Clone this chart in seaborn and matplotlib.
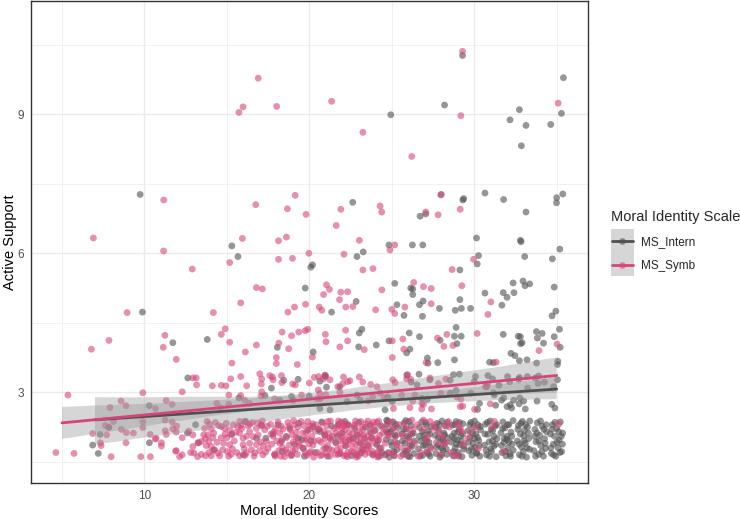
import numpy as np
import pandas as pd
import matplotlib
matplotlib.use("Agg")
import matplotlib.pyplot as plt
import seaborn as sns
from matplotlib.patches import Rectangle
from matplotlib.lines import Line2D

sns.set_theme(style="white")
plt.rcParams['font.family'] = ['Liberation Sans', 'DejaVu Sans']

# ---------------- data (jittered positions) ----------------
scales = ["MS_Intern", "MS_Symb"]
x_title = "Moral Identity Scores"
y_title = "Active Support"
legend_title = "Moral Identity Scale"
x_ticks = [10, 20, 30]
y_ticks = [3, 6, 9]

symb_upper = [
 (16.9,9.78),(15.98,9.16),(15.73,9.04),(18.02,9.17),(21.35,9.28),(29.29,10.36),(29.19,8.97),(23.25,8.61),(26.21,8.09),(35.09,9.24),
 (11.17,7.15),(16.75,7.05),(6.9,6.33),(15.94,6.32),(11.16,6.05),(19.14,7.25),(18.67,6.96),(19.8,6.84),(21.91,6.95),(24.29,7.02),
 (24.39,6.89),(21.63,6.6),(27.97,7.26),(27.06,6.89),(27.81,6.83),(29.15,6.95),(18.13,6.27),(18.61,6.35),(23.03,6.28),(25.18,6.18),
 (24.89,6.07),(19.97,6.0),(22.1,5.98),(18.13,5.87),(18.98,5.89),(29.96,5.87),(15.17,5.8),(23.25,5.64),(23.86,5.67),(16.79,5.26),
 (17.15,5.23),(21.04,5.32),(21.22,5.22),(20.86,5.11),(21.91,5.16),(22.32,5.17),(21.83,5.0),(24.4,5.21),(15.84,4.93),(19.77,4.9),
 (19.1,4.84),(18.7,4.73),(20.6,4.84),(20.76,4.77),(22.21,4.84),(22.64,4.85),(24.02,4.78),(25.0,4.79),(25.18,4.7),(25.79,4.84),
 (18.35,4.3),(18.92,4.22),(19.36,4.3),(19.75,4.33),(19.9,4.36),(20.97,4.25),(21.01,4.09),(22.2,4.34),(22.32,4.11),(23.33,3.92),
 (21.85,3.98),(25.03,4.11),(25.67,4.15),(25.73,3.93),(25.03,3.75),(15.17,4.08),(15.3,3.63),(16.79,4.02),(16.12,3.87),(18.15,4.06),
 (18.75,3.94),(20.19,3.76),(18.0,3.75),(18.0,3.62),(19.27,3.6),(15.23,3.29),(15.84,3.34),(16.2,3.14),(16.99,3.4),(17.11,3.29),
 (17.09,3.18),(17.6,3.36),(17.76,3.33),(18.31,3.36),(18.33,3.21),(18.99,3.18),(19.15,3.16),(20.3,3.32),(20.0,3.2),(21.25,3.27),
 (22.07,3.33),(22.32,3.23),(21.73,3.12),(23.03,3.33),(23.24,3.22),(23.72,3.17),(25.06,3.27),(25.2,3.21),(28.66,5.65),(26.33,5.37),
 (26.92,5.28),(27.39,5.24),(29.25,5.3),(27.39,4.91),(31.01,4.95),(30.83,4.68),(27.77,4.17),(28.34,4.25),(30.18,4.27),(28.16,3.99),
 (28.71,4.01),(35.02,4.04),(33.93,3.9),(27.08,3.64),(31.33,3.65),(25.96,3.38),(25.9,3.29),(27.32,3.31),(30.67,3.12),(30.81,3.18),
 (17.8,3.27),(17.11,3.01),(17.07,2.92),(15.84,2.93),(16.38,2.76),(17.9,2.86),(19.53,2.94),(20.56,3.34),(20.85,3.29),(20.97,3.37),
 (20.54,3.05),(20.64,2.97),(20.48,2.86),(20.66,2.86),(21.0,2.95),(21.85,3.0),(22.03,3.19),(22.46,3.25),(24.1,3.12),(24.3,2.99),
 (24.53,2.88),(23.84,2.9),(23.57,2.81),(26.15,3.28),(26.41,2.94),(26.27,2.81),(26.82,2.76),(26.82,2.64),(27.41,2.64),(27.83,3.19),
 (28.28,3.28),(27.97,2.98),(28.95,2.9),(29.19,2.85),(29.15,2.69),(30.02,2.63),(30.97,2.75),(12.9,5.66),(8.95,4.72),(14.18,4.72),
 (11.24,4.23),(11.14,3.97),(7.85,4.12),(6.78,3.93),(14.66,4.25),(14.9,4.37),(11.93,3.71),(12.94,3.31),(13.14,3.31),(13.16,3.16),
 (14.12,3.14),(14.66,3.15),(14.94,3.14),(15.12,2.94),(12.29,3.01),(9.9,2.99),(5.36,2.94),(8.58,2.81),(8.88,2.71),(10.67,2.65),
 (11.32,2.82),(11.68,2.74),(7.91,2.67),(16.08,2.83),(15.11,2.74),(14.62,2.67),(14.39,2.76),(25.1,2.65),(26.1,2.67),(26.92,2.74),
 (29.3,2.70),(25.6,2.94),
]

symb_band = [
 (4.63,1.70),(5.73,1.68),(6.86,2.11),(7.33,1.91),(7.37,1.85),(7.63,2.28),(7.83,2.25),(7.71,2.08),(7.98,1.61),(8.12,2.37),
 (8.6,2.2),(8.9,2.13),(8.88,1.91),(9.33,2.12),(9.9,2.37),(9.9,2.24),(9.78,1.61),(10.35,2.09),(10.65,1.99),(10.36,1.61),
 (11.03,1.84),(11.03,1.91),(11.32,2.09),(11.26,2.17),(11.72,2.21),(11.93,2.14),(12.29,2.02),(11.93,1.74),(11.89,1.73),(12.29,1.65),
 (11.26,2.4),(11.68,2.36),(11.95,2.27),(12.8,1.7),(13.0,1.69),(13.22,1.61),(13.45,1.66),(12.69,2.16),(12.94,1.83),(13.24,1.91),
 (13.45,1.94),(13.59,2.08),(12.94,2.08),(12.13,1.61),(10.71,2.01),
 (13.65,2.22),(13.95,2.31),(14.05,2.21),(13.85,2.08),(14.15,2.02),(13.91,1.94),(13.75,1.85),(14.05,1.83),(14.25,1.76),(14.46,1.69),
 (14.05,1.63),(13.71,1.63),(14.56,1.63),(14.66,2.26),(14.96,2.33),(14.86,2.22),(15.17,2.19),(15.27,2.08),(15.0,2.02),(14.66,2.02),
 (14.8,1.90),(15.17,1.87),(15.33,1.78),(15.03,1.72),(15.67,2.26),(15.77,2.37),(16.08,2.37),(16.28,2.28),(15.77,2.12),(15.98,2.01),
 (16.38,2.15),(16.59,2.04),(16.38,1.90),(15.98,1.87),(15.77,1.63),(16.18,1.69),(16.48,1.76),(16.79,1.87),(16.69,1.69),(16.99,1.74),
 (17.19,1.65),(16.79,2.22),(17.09,2.30),(17.29,2.19),(17.4,1.94),(17.5,1.79),
 (13.8,2.37),(14.3,2.35),(14.4,1.92),(14.75,1.76),(15.1,1.62),(15.4,2.3),(15.45,1.95),(15.6,1.7),(15.9,2.22),(16.05,1.78),
 (16.2,2.05),(16.55,2.35),(16.65,1.62),(16.9,2.08),(17.05,1.93),(17.15,2.38),(17.35,1.71),(17.45,2.27),(13.9,1.7),(14.2,2.12),
 (14.5,2.28),(15.25,1.66),(15.55,2.14),(16.1,1.64),(16.4,2.31),(16.85,2.34),(17.2,1.84),(13.7,2.0),(14.9,2.1),(15.85,2.28),
 (17.65,2.31),(17.72,1.88),(17.8,2.05),(17.9,1.67),(17.95,2.22),(18.02,1.95),(18.1,2.36),(18.15,1.74),(18.2,2.12),(18.27,1.62),
 (18.3,2.27),(18.35,1.99),(18.38,1.81),(17.85,2.14),
 (18.62,2.02),(18.66,1.7),(18.7,2.35),(18.78,1.86),(18.85,2.19),(18.9,1.63),(18.96,2.08),(19.02,1.93),(19.1,2.3),(19.15,1.77),
 (19.2,2.14),(19.27,1.66),(19.31,2.25),(19.36,1.9),(19.05,2.39),
 (19.62,1.8),(19.67,2.28),(19.72,1.97),(19.8,2.13),(19.85,1.64),(19.9,2.37),(19.97,1.88),(20.03,2.2),(20.1,1.72),(20.15,2.05),
 (20.2,2.32),(20.26,1.6),(20.3,1.95),(20.36,2.16),(20.0,1.69),
 (20.62,2.21),(20.66,1.63),(20.72,1.92),(20.8,2.34),(20.87,1.78),(20.93,2.07),(21.0,1.68),(21.05,2.27),(21.1,1.86),(21.17,2.12),
 (21.24,1.62),(21.28,2.38),(21.33,1.97),(21.37,1.75),(20.95,2.0),
 (21.63,1.9),(21.7,2.25),(21.75,1.66),(21.83,2.1),(21.9,1.8),(21.95,2.36),(22.03,1.98),(22.1,1.63),(22.15,2.18),(22.22,1.85),
 (22.28,2.3),(22.33,1.71),(22.37,2.04),(21.98,2.22),
 (22.62,2.1),(22.68,1.7),(22.75,2.3),(22.83,1.88),(22.9,2.15),(22.97,1.62),(23.05,2.03),(23.12,2.37),(23.2,1.79),(23.27,2.2),
 (23.33,1.93),(23.38,1.66),
 (23.63,1.84),(23.7,2.27),(23.78,2.02),(23.86,1.64),(23.93,2.16),(24.0,1.9),(24.1,2.35),(24.18,1.73),(24.27,2.07),(24.35,1.8),
 (17.68,2.1),(17.93,1.62),(18.22,1.9),(18.4,2.2),(18.58,1.75),(18.75,2.27),(19.0,1.74),(19.22,2.02),(19.4,1.85),(19.6,2.12),
 (19.75,1.7),(20.05,2.27),(20.22,1.86),(20.4,2.3),(20.58,1.96),(20.77,1.65),(20.9,2.15),(21.12,2.37),(21.2,1.77),(21.4,2.05),
 (21.58,1.66),(21.8,2.32),(21.92,1.95),(22.07,2.27),(22.25,1.64),(22.42,2.14),(22.6,1.83),(22.8,2.38),(22.92,1.75),(23.1,2.1),
 (23.25,1.86),(23.42,2.32),(23.6,1.7),(23.75,2.12),(23.9,2.36),(24.05,1.67),(24.22,1.97),(24.4,2.25),(18.5,1.61),(19.5,2.37),
 (20.5,1.7),(21.5,2.22),(22.5,1.95),(23.5,2.05),(24.15,1.6),(19.85,2.0),
 (21.6,2.12),(21.68,1.76),(21.77,2.38),(21.88,1.69),(22.0,2.05),(22.12,2.32),(22.2,1.92),(22.3,1.61),(22.4,2.28),(22.55,1.72),
 (22.64,2.0),(22.72,2.26),(22.86,1.6),(22.95,1.94),(23.08,1.68),(23.17,2.24),(23.3,2.08),(23.44,1.77),(23.55,2.38),(23.65,1.95),
 (23.8,1.73),(23.96,2.28),(24.07,2.0),(24.2,2.38),(24.32,1.63),(24.45,2.12),(24.6,1.9),(24.78,2.06),(24.98,2.36),(25.15,1.64),
 (24.89,2.08),(25.2,1.94),(25.1,2.22),(25.91,2.22),(26.21,2.40),(26.92,2.40),(27.33,2.37),(27.53,2.22),(27.83,2.15),(28.14,1.87),
 (28.44,2.37),(29.15,2.22),(29.25,2.15),(29.76,2.15),(30.26,1.79),(29.05,1.65),(27.12,1.72),(25.91,1.65),(24.62,2.2),(24.7,1.67),
 (25.3,1.86),(25.7,2.05),(31.22,2.37),(31.08,2.25),(31.78,1.72),(35.12,2.31),
 (24.75,2.33),(25.05,1.7),(25.45,2.3),(25.6,1.8),(26.05,1.95),(26.3,2.2),(26.6,1.62),(27.2,2.05),(27.7,1.92),(28.2,2.28),
 (28.6,1.7),(30.1,2.25),
 (25.4,2.1),(25.55,1.62),(25.8,2.35),(26.0,1.78),(26.15,2.1),(26.4,1.9),(26.55,2.3),(26.75,1.7),(26.95,2.2),(27.1,1.95),
 (27.4,1.78),(27.6,2.3),(27.95,1.65),(28.05,2.05),(28.3,1.92),(28.5,2.25),(28.8,1.62),(29.0,2.32),(29.35,1.88),(29.6,2.0),
]

intern_upper = [
 (9.74,7.27),(15.3,6.16),(15.67,5.93),(29.29,10.27),(28.2,9.2),(24.94,8.99),(32.74,9.1),(32.17,8.88),(33.14,8.76),(32.86,8.32),
 (22.63,7.1),(28.0,7.27),(29.31,7.15),(29.36,7.18),(30.65,7.3),(31.78,7.16),(33.14,6.89),(26.72,6.8),(27.06,6.85),(24.83,6.18),
 (26.25,6.18),(26.88,6.18),(30.14,6.33),(32.8,6.28),(32.84,6.25),(30.26,5.95),(33.06,5.93),(22.89,5.93),(23.27,6.03),
 (35.41,9.79),(35.29,9.02),(34.64,8.78),(35.37,7.28),(35.0,7.2),(34.99,7.09),(35.19,6.09),(34.74,5.88),(32.96,5.4),(33.08,5.3),
 (33.36,5.34),(34.85,5.27),(34.95,4.75),(34.72,4.65),(33.77,4.31),(34.12,4.27),(35.17,4.36),(32.9,4.07),(34.2,4.06),(34.85,4.2),
 (35.21,3.97),(32.8,4.2),
 (20.09,5.7),(20.19,5.75),(19.75,5.25),(22.84,4.96),(25.18,5.35),(21.35,4.73),(25.31,4.89),(25.74,4.66),(23.19,4.36),(23.03,4.28),
 (22.99,3.98),(24.06,4.02),(24.83,4.11),(25.9,3.85),(18.06,3.97),(20.23,3.87),(17.7,3.09),(18.45,3.26),(19.32,3.28),(20.94,3.36),
 (20.98,3.34),(20.64,3.24),(25.91,3.37),
 (30.18,5.77),(29.13,5.64),(26.15,5.25),(26.27,5.23),(26.27,5.11),(32.36,5.36),(30.65,5.14),(31.76,5.15),(31.99,5.05),(32.41,5.15),
 (26.9,4.97),(26.68,4.89),(26.86,4.64),(27.89,4.81),(28.85,4.77),(29.22,4.81),(29.13,5.0),(29.78,4.81),(31.68,4.88),(26.06,4.28),
 (26.68,4.2),(27.93,4.12),(28.9,4.4),(28.8,4.21),(29.21,4.21),(28.95,4.05),(31.76,4.25),(32.67,4.21),(32.81,4.05),(33.83,4.17),
 (26.1,3.93),(27.16,3.74),(27.2,3.63),(27.79,3.64),(28.8,3.7),(32.23,3.84),(32.47,3.79),(32.74,3.68),(33.2,3.7),(30.93,3.65),
 (31.16,3.64),(33.78,3.63),(35.07,3.67),(35.05,3.6),(26.65,3.39),(28.74,3.38),(29.1,3.39),(30.08,3.34),(30.83,3.36),(32.02,3.34),
 (32.74,3.32),(33.22,3.34),(33.69,3.31),(33.91,3.35),(33.87,3.19),(34.26,3.22),(35.05,3.27),(34.82,3.12),
 (17.31,2.93),(18.2,2.83),(18.92,2.91),(19.02,2.83),(19.99,2.92),(21.04,3.11),(21.85,3.12),(22.9,2.94),(23.08,2.83),(22.29,2.8),
 (25.03,2.8),(24.75,2.9),(26.17,3.22),(26.53,3.16),(26.82,2.87),(27.16,2.85),(27.31,3.27),(28.54,3.26),(28.54,2.98),(28.9,3.04),
 (29.8,2.98),(30.0,3.23),(30.32,2.76),(30.2,2.63),(30.76,3.12),(31.11,3.29),(31.17,2.99),(31.5,3.15),(31.66,2.83),(31.99,2.69),
 (32.39,2.83),(32.72,2.75),(33.1,2.64),(33.24,3.09),(32.15,3.23),(32.7,3.28),
 (31.22,2.94),(31.79,2.88),(32.76,2.88),(33.0,2.81),(33.81,2.81),(34.7,2.74),(34.89,2.66),(31.3,2.72),(32.19,2.73),(32.27,2.66),
 (9.88,4.73),(11.72,4.07),(13.81,4.14),(12.63,3.31),(10.29,2.71),(15.73,2.88),(20.64,2.65),(21.25,2.62),(24.59,2.62),
]

intern_band = [
 (6.86,1.86),(7.31,2.09),(7.85,2.24),(10.3,1.91),(12.61,2.12),(13.28,1.91),(16.14,2.37),(16.79,2.01),(17.36,2.01),
 (7.2,1.68),(13.1,2.3),(14.2,1.75),(15.3,2.1),(16.0,1.65),(17.1,2.28),
 (18.31,1.94),(18.92,1.65),(18.81,2.22),(19.32,2.01),(20.23,2.26),(20.64,2.15),(20.94,2.08),(21.25,2.01),(21.75,2.30),(22.16,2.37),
 (22.67,2.01),(22.91,2.08),(23.07,1.90),(23.27,1.76),(23.68,2.15),(23.78,2.01),(24.08,1.87),(24.29,1.79),(24.69,2.40),(24.79,2.12),
 (17.9,1.65),(19.63,1.79),(22.87,1.65),(24.59,1.65),
 (17.8,2.1),(18.1,2.3),(18.35,1.72),(18.6,2.05),(19.1,1.88),(19.35,2.33),(19.7,1.62),(19.9,2.18),(20.1,1.95),(20.35,1.7),
 (20.75,2.36),(21.0,1.8),(21.1,1.62),(21.35,2.27),(21.6,1.92),(21.85,1.68),(22.0,2.12),(22.2,1.85),(22.35,2.3),(22.55,1.63),
 (22.75,2.22),(23.0,2.35),(23.15,1.7),(23.35,2.0),(23.55,1.85),(23.7,2.3),(23.85,1.66),(24.0,2.18),(24.15,1.95),(24.35,2.28),
 (24.4,1.7),(22.4,1.97),(23.4,2.25),(21.7,2.05),(20.55,2.2),(19.55,1.98),(24.2,1.62),
 (24.65,1.98),(24.72,2.3),(24.8,1.7),(24.9,2.15),(25.0,1.85),(25.08,2.36),(25.15,1.63),(25.22,2.05),(25.3,1.76),(25.36,2.24),
 (25.62,2.1),(25.68,1.66),(25.74,2.33),(25.8,1.9),(25.88,2.2),(25.95,1.74),(26.02,2.02),(26.1,1.61),(26.17,2.28),(26.23,1.83),
 (26.3,2.12),(26.36,1.95),(25.85,2.39),
 (26.62,1.78),(26.68,2.24),(26.75,1.95),(26.82,2.36),(26.88,1.64),(26.95,2.08),(27.02,1.86),(27.08,2.3),(27.15,1.71),(27.2,2.16),
 (27.26,1.92),(27.32,1.62),(27.37,2.26),(27.0,2.0),
 (27.62,2.07),(27.68,1.68),(27.74,2.33),(27.8,1.87),(27.86,2.18),(27.92,1.6),(27.98,1.99),(28.04,2.38),(28.1,1.76),(28.16,2.12),
 (28.22,1.9),(28.28,2.27),(28.34,1.66),(28.38,2.02),(28.0,1.8),
 (28.62,1.92),(28.67,2.29),(28.72,1.63),(28.78,2.12),(28.84,1.8),(28.9,2.37),(28.96,1.97),(29.02,1.7),(29.08,2.2),(29.14,1.87),
 (29.2,2.06),(29.26,1.61),(29.31,2.32),(29.36,1.77),(29.0,2.14),(28.8,2.0),
 (29.62,2.17),(29.68,1.74),(29.74,2.03),(29.8,2.35),(29.86,1.64),(29.92,1.9),(29.98,2.25),(30.04,1.81),(30.1,2.1),(30.16,1.68),
 (30.22,2.3),(30.28,1.96),(30.34,1.62),(30.38,2.19),(30.0,2.0),
 (30.62,1.86),(30.68,2.31),(30.75,1.65),(30.82,2.09),(30.9,1.93),(30.97,2.38),(31.05,1.72),(31.12,2.17),(31.2,1.84),(31.27,2.27),
 (31.33,1.61),(31.38,2.0),(31.0,1.78),
 (31.62,2.12),(31.68,1.7),(31.74,2.36),(31.8,1.92),(31.86,2.23),(31.92,1.63),(31.98,2.05),(32.04,1.8),(32.1,2.3),(32.17,1.67),
 (32.23,2.14),(32.3,1.88),(32.36,2.39),(32.0,1.98),
 (32.62,1.95),(32.68,2.28),(32.74,1.65),(32.8,2.1),(32.86,1.82),(32.92,2.37),(32.98,1.72),(33.04,2.18),(33.1,1.9),(33.17,1.6),
 (33.23,2.25),(33.3,2.0),(33.36,1.77),(33.0,2.06),
 (33.62,1.74),(33.68,2.2),(33.75,1.93),(33.82,2.34),(33.9,1.66),(33.97,2.07),(34.04,1.85),(34.12,2.27),(34.2,1.62),(34.27,2.0),
 (34.33,1.79),(34.38,2.15),
 (34.62,2.1),(34.68,1.68),(34.74,2.3),(34.8,1.88),(34.87,2.05),(34.94,1.62),(35.0,2.22),(35.08,1.8),(35.15,1.97),(35.22,2.36),
 (35.3,1.72),(35.36,2.12),
 (24.68,2.15),(24.85,1.6),(24.95,1.93),(25.05,2.22),(25.12,1.72),(25.25,2.31),(25.33,1.9),(24.76,2.38),(25.18,2.08),
 (25.65,1.95),(25.72,2.2),(25.83,1.73),(25.92,2.05),(26.05,2.37),(26.14,1.86),(26.2,2.1),(26.33,1.68),(25.98,1.62),
 (26.65,2.05),(26.72,1.62),(26.85,2.15),(26.92,1.85),(27.05,2.35),(27.12,1.95),(27.23,1.67),(27.3,2.1),(27.35,1.82),
 (27.65,2.25),(27.72,1.82),(27.83,2.02),(27.9,2.3),(28.02,1.65),(28.12,1.95),(28.2,2.08),(28.3,1.78),(28.36,2.35),
 (28.65,2.05),(28.75,1.72),(28.82,2.3),(28.93,1.88),(29.05,1.62),(29.1,2.35),(29.22,1.95),(29.3,2.1),(29.38,1.84),
 (29.65,1.92),(29.72,2.3),(29.83,1.78),(29.9,2.12),(30.02,2.38),(30.12,1.7),(30.2,2.02),(30.3,1.85),(30.36,2.26),
 (30.65,2.1),(30.72,1.75),(30.8,2.35),(30.93,1.62),(31.02,2.2),(31.1,1.95),(31.2,2.05),(31.3,1.88),(31.36,2.3),
 (31.65,1.85),(31.72,2.22),(31.83,2.0),(31.9,1.72),(32.02,2.3),(32.12,1.93),(32.2,1.62),(32.28,2.05),(32.37,1.75),
 (32.65,2.2),(32.72,1.88),(32.83,2.33),(32.9,1.62),(33.02,1.95),(33.12,2.3),(33.2,1.8),(33.28,2.12),(33.37,2.38),
 (33.65,2.05),(33.72,1.62),(33.8,2.12),(33.92,1.95),(34.02,2.38),(34.1,1.72),(34.22,2.2),(34.3,1.9),(34.36,2.3),
 (34.65,1.8),(34.72,2.2),(34.82,1.65),(34.9,2.35),(35.02,1.92),(35.12,2.15),(35.2,1.7),(35.28,2.05),(35.35,1.88),
]

colors = {"MS_Intern": "#505050", "MS_Symb": "#D6457A"}

# ---------------- assemble ----------------
rows = []
for name, pts in (("MS_Intern", intern_band + intern_upper), ("MS_Symb", symb_band + symb_upper)):
    for x, y in pts:
        rows.append((name, x, y))
df = pd.DataFrame(rows, columns=["scale", "score", "support"])

W, H = 740, 519
fig = plt.figure(figsize=(W / 100, H / 100), dpi=100)
L, R, T, B = 31, 588, 0.5, 483
ax = fig.add_axes([L / W, 1 - B / H, (R - L) / W, (B - T) / H])

sns.scatterplot(data=df, x="score", y="support", hue="scale", hue_order=scales,
                palette=colors, s=24, alpha=0.6, linewidth=0, legend=False,
                ax=ax, zorder=2)

for name in scales:
    sub = df[df.scale == name]
    n0 = len(ax.collections)
    sns.regplot(x=sub.score.round(), y=sub.support, scatter=False, ci=95,
                n_boot=1000, seed=7, truncate=True, color="#999999",
                line_kws=dict(color=colors[name], lw=2.0, zorder=4), ax=ax)
    for c in ax.collections[n0:]:
        c.set_facecolor("#999999")
        c.set_alpha(0.4)
        c.set_zorder(3)
        c.set_edgecolor("none")

ax.set_xlim(3.12, 36.9)
ax.set_ylim(1.042, 11.456)
ax.set_xticks(x_ticks)
ax.set_xticklabels([str(t) for t in x_ticks])
ax.set_yticks(y_ticks)
ax.set_yticklabels([str(t) for t in y_ticks])
ax.set_xticks([5, 15, 25, 35], minor=True)
ax.set_yticks([1.5, 4.5, 7.5, 10.5], minor=True)
ax.grid(which="major", color="#EBEBEB", lw=1.0)
ax.grid(which="minor", color="#EBEBEB", lw=0.5)
ax.set_axisbelow(True)
ax.tick_params(axis="both", which="major", length=2.64, width=0.8, color="#333333",
               labelsize=8.45, labelcolor="#4D4D4D", pad=2.1)
ax.tick_params(axis="both", which="minor", length=0)
for sp in ax.spines.values():
    sp.set_color("#333333")
    sp.set_linewidth(1.0)
    sp.set_visible(True)

ax.set_xlabel(x_title, fontsize=10.56, color="black")
ax.set_ylabel(y_title, fontsize=10.56, color="black")
ax.xaxis.set_label_coords(0.5, (B - 515) / (B - T))
ax.xaxis.label.set_va("baseline")
ax.yaxis.set_label_coords((10 - L) / (R - L), 0.5)
ax.yaxis.label.set_va("center")

# ---------------- legend (ggplot-like keys) ----------------
def fx(px):
    return px / W

def fy(py):
    return 1 - py / H

fig.text(fx(610.7), fy(220.5), legend_title, fontsize=10.56, ha="left", va="baseline")
key_x0, key_x1 = 610.7, 634.0
key_centers = [241.0, 264.5]
fig.patches.append(Rectangle((fx(key_x0), fy(276.0)), fx(key_x1) - fx(key_x0), fy(229.3) - fy(276.0),
                             transform=fig.transFigure, facecolor="#999999", alpha=0.4,
                             edgecolor="none", zorder=1))
for name, cy in zip(scales, key_centers):
    fig.lines.append(Line2D([fx(key_x0 + 1.5), fx(key_x1 - 1.5)], [fy(cy), fy(cy)],
                            transform=fig.transFigure, color=colors[name], lw=2.0, zorder=2))
    fig.lines.append(Line2D([fx((key_x0 + key_x1) / 2)], [fy(cy)], transform=fig.transFigure,
                            marker="o", markersize=4.8, markeredgewidth=0, color=colors[name],
                            alpha=0.6, zorder=3))
    fig.text(fx(640.7), fy(cy + 4.2), name, fontsize=8.45, ha="left", va="baseline")

fig.savefig("out.png", dpi=100)
